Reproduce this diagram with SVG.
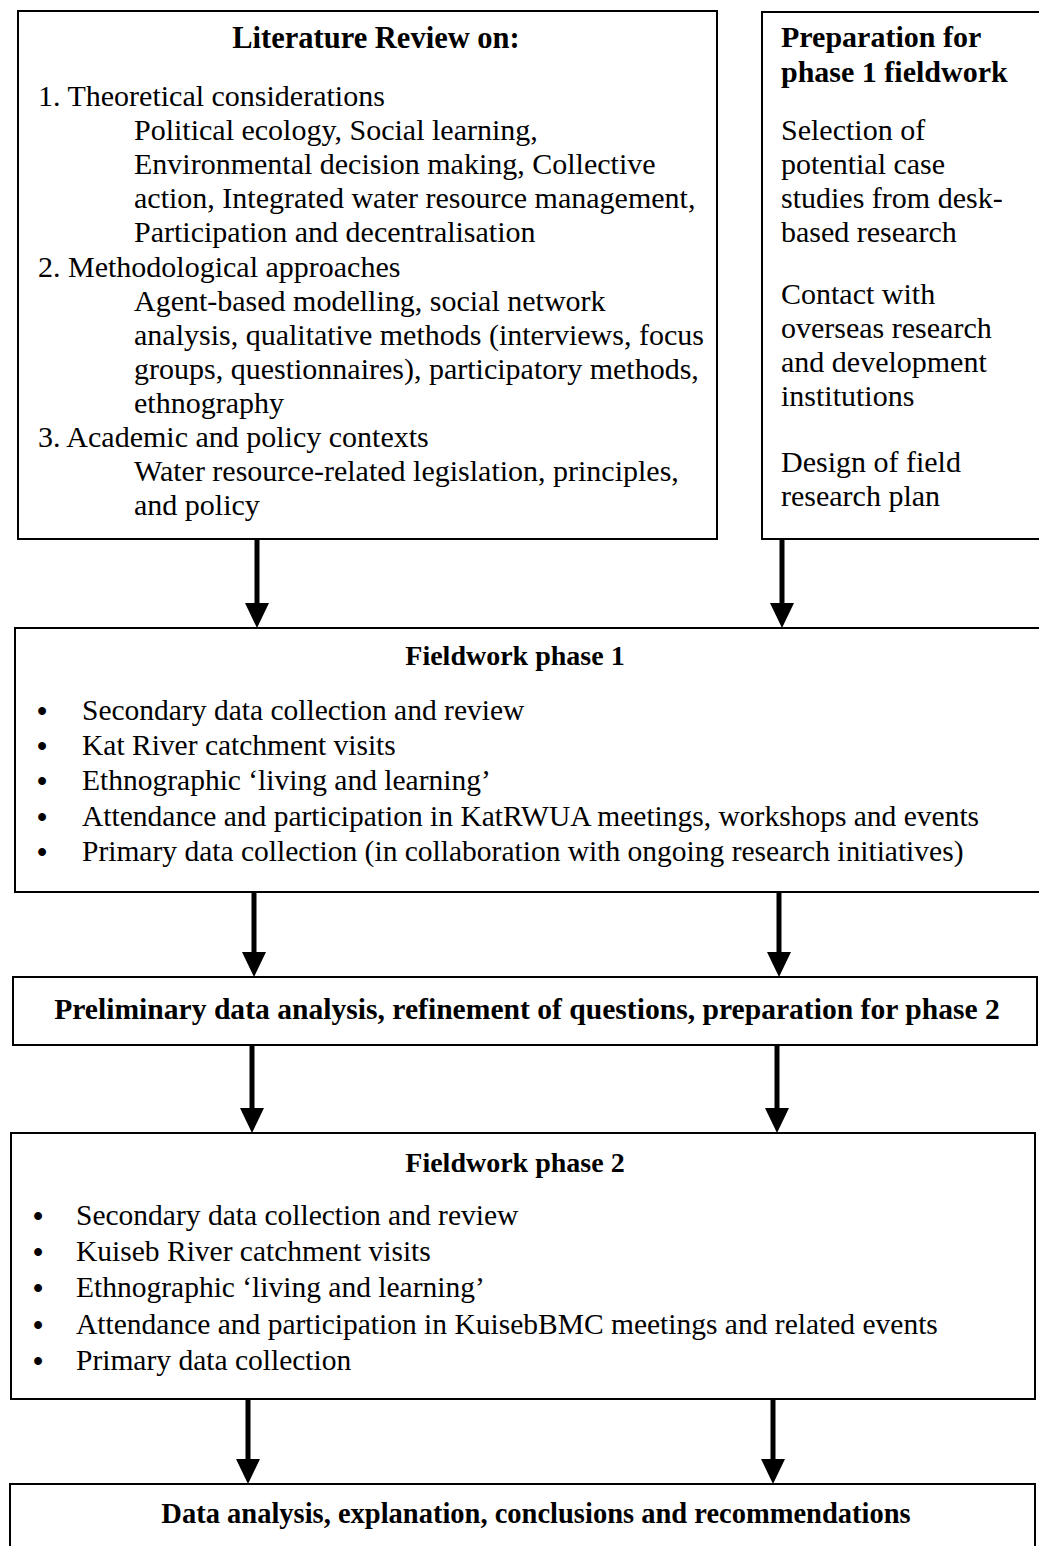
<svg xmlns="http://www.w3.org/2000/svg" width="1039" height="1546" viewBox="0 0 1039 1546">
<defs>
<style>
.box{fill:#fff;stroke:#000;stroke-width:2}
text{font-family:"Liberation Serif","Times New Roman",serif;font-size:30px;fill:#000}
.b{font-weight:bold}
.c{text-anchor:middle}
.fw{font-size:29.5px}
.bu{font-size:29px;font-weight:bold;text-anchor:middle}
.h2{font-size:28px}
.sh{stroke:#000;stroke-width:5;fill:none}
.hd{fill:#000;stroke:none}
</style>
</defs>
<rect width="1039" height="1546" fill="#fff"/>
<g id="literature-review">
<rect class="box" x="18" y="11" width="699" height="528"/>
<text class="b c" x="376" y="48" style="font-size:30.5px">Literature Review on:</text>
<text x="38" y="106">1. Theoretical considerations</text>
<text x="134" y="140">Political ecology, Social learning,</text>
<text x="134" y="174">Environmental decision making, Collective</text>
<text x="134" y="208">action, Integrated water resource management,</text>
<text x="134" y="242">Participation and decentralisation</text>
<text x="38" y="277">2. Methodological approaches</text>
<text x="134" y="311">Agent-based modelling, social network</text>
<text x="134" y="345">analysis, qualitative methods (interviews, focus</text>
<text x="134" y="379">groups, questionnaires), participatory methods,</text>
<text x="134" y="413">ethnography</text>
<text x="38" y="447">3. Academic and policy contexts</text>
<text x="134" y="481">Water resource-related legislation, principles,</text>
<text x="134" y="515">and policy</text>
</g>
<g id="preparation">
<rect class="box" x="762" y="12" width="290" height="527"/>
<text class="b" x="781" y="47">Preparation for</text>
<text class="b" x="781" y="82">phase 1 fieldwork</text>
<text x="781" y="140">Selection of</text>
<text x="781" y="174">potential case</text>
<text x="781" y="208">studies from desk-</text>
<text x="781" y="242">based research</text>
<text x="781" y="304">Contact with</text>
<text x="781" y="338">overseas research</text>
<text x="781" y="372">and development</text>
<text x="781" y="406">institutions</text>
<text x="781" y="472">Design of field</text>
<text x="781" y="506">research plan</text>
</g>
<g id="fieldwork-phase-1">
<rect class="box" x="15" y="628" width="1035" height="264"/>
<text class="b c h2" x="515" y="665">Fieldwork phase 1</text>
<text class="bu" x="42" y="721">•</text>
<text class="fw" x="82" y="720">Secondary data collection and review</text>
<text class="bu" x="42" y="756">•</text>
<text class="fw" x="82" y="755">Kat River catchment visits</text>
<text class="bu" x="42" y="791">•</text>
<text class="fw" x="82" y="790">Ethnographic ‘living and learning’</text>
<text class="bu" x="42" y="827">•</text>
<text class="fw" x="82" y="826">Attendance and participation in KatRWUA meetings, workshops and events</text>
<text class="bu" x="42" y="862">•</text>
<text class="fw" x="82" y="861">Primary data collection (in collaboration with ongoing research initiatives)</text>
</g>
<g id="preliminary-analysis">
<rect class="box" x="13" y="977" width="1024" height="68"/>
<text class="b c" x="527" y="1019" style="font-size:29.6px">Preliminary data analysis, refinement of questions, preparation for phase 2</text>
</g>
<g id="fieldwork-phase-2">
<rect class="box" x="11" y="1133" width="1024" height="266"/>
<text class="b c h2" x="515" y="1172">Fieldwork phase 2</text>
<text class="bu" x="38" y="1226">•</text>
<text class="fw" x="76" y="1225">Secondary data collection and review</text>
<text class="bu" x="38" y="1262">•</text>
<text class="fw" x="76" y="1261">Kuiseb River catchment visits</text>
<text class="bu" x="38" y="1298">•</text>
<text class="fw" x="76" y="1297">Ethnographic ‘living and learning’</text>
<text class="bu" x="38" y="1335">•</text>
<text class="fw" x="76" y="1334">Attendance and participation in KuisebBMC meetings and related events</text>
<text class="bu" x="38" y="1371">•</text>
<text class="fw" x="76" y="1370">Primary data collection</text>
</g>
<g id="data-analysis">
<rect class="box" x="10" y="1484" width="1025" height="80"/>
<text class="b c" x="536" y="1523" style="font-size:28.5px">Data analysis, explanation, conclusions and recommendations</text>
</g>
<g id="connectors">
<line class="sh" x1="257" y1="540" x2="257" y2="606"/>
<polygon class="hd" points="245,603 269,603 257,628"/>
<line class="sh" x1="782" y1="540" x2="782" y2="606"/>
<polygon class="hd" points="770,603 794,603 782,628"/>
<line class="sh" x1="254" y1="893" x2="254" y2="955"/>
<polygon class="hd" points="242,952 266,952 254,977"/>
<line class="sh" x1="779" y1="893" x2="779" y2="955"/>
<polygon class="hd" points="767,952 791,952 779,977"/>
<line class="sh" x1="252" y1="1046" x2="252" y2="1111"/>
<polygon class="hd" points="240,1108 264,1108 252,1133"/>
<line class="sh" x1="777" y1="1046" x2="777" y2="1111"/>
<polygon class="hd" points="765,1108 789,1108 777,1133"/>
<line class="sh" x1="248" y1="1400" x2="248" y2="1462"/>
<polygon class="hd" points="236,1459 260,1459 248,1484"/>
<line class="sh" x1="773" y1="1400" x2="773" y2="1462"/>
<polygon class="hd" points="761,1459 785,1459 773,1484"/>
</g>
</svg>
